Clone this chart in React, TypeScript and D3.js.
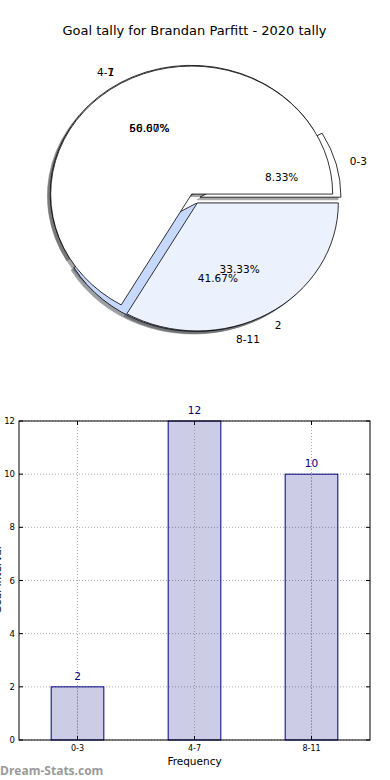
import React from 'react';
import * as d3 from 'd3';

// outer pie (drawn first) and inner pie (drawn on top), same centre
const pieALabels = ['0-3', '4-7', '8-11'];
const pieAValues = [2, 12, 10];
const pieAColors = ['#ffffff', '#ffffff', '#c6d9fd'];

const pieBLabels = ['1', '2'];
const pieBValues = [2, 1];
const pieBColors = ['#ffffff', '#ebf1fd'];

const barCategories = ['0-3', '4-7', '8-11'];
const barValues = [2, 12, 10];
const yTicks = [0, 2, 4, 6, 8, 10, 12];

const FONT = 'DejaVu Sans, sans-serif';

const shade = (c: string) => {
  const k = d3.rgb(c);
  return d3.rgb(k.r * 0.3, k.g * 0.3, k.b * 0.3).toString();
};

const App = () => {
  const width = 390;
  const height = 780;

  // pie geometry (matplotlib pie on a non-square axes -> ellipse)
  const cx = 194.5;
  const cy = 198.5;
  const rx = 141;
  const ry = 128;
  const explode = 0.04;

  const pie = d3.pie<number>()
    .value(d => d)
    .sort(null)
    .startAngle(Math.PI / 2)
    .endAngle(Math.PI / 2 - 2 * Math.PI);

  const arc = d3.arc<any>().innerRadius(0).outerRadius(1);

  const build = (values: number[], labels: string[], colors: string[]) => {
    const total = d3.sum(values);
    return pie(values).map((d, i) => {
      const mid = (d.startAngle + d.endAngle) / 2;
      const ux = Math.sin(mid);
      const uy = -Math.cos(mid);
      return {
        d: arc({ startAngle: Math.min(d.startAngle, d.endAngle), endAngle: Math.max(d.startAngle, d.endAngle) }),
        ox: cx + rx * explode * ux,
        oy: cy + ry * explode * uy,
        ux,
        uy,
        color: colors[i],
        label: labels[i],
        pct: d3.format('.2f')((values[i] / total) * 100) + '%',
      };
    });
  };

  const wedgesA = build(pieAValues, pieALabels, pieAColors);
  const wedgesB = build(pieBValues, pieBLabels, pieBColors);
  const all = [...wedgesA, ...wedgesB];

  // bar chart
  const margin = { top: 421, right: 20, bottom: 40, left: 19 };
  const innerW = width - margin.left - margin.right;
  const innerH = 740 - margin.top;
  const x = d3.scalePoint<string>().domain(barCategories).range([0, innerW]).padding(0.5);
  const step = x.step();
  const barW = step * 0.45;
  const y = d3.scaleLinear().domain([0, 12]).range([innerH, 0]);

  return (
    <svg width={width} height={height} viewBox={`0 0 ${width} ${height}`}
      style={{ position: 'absolute', left: 0, top: 0, background: '#fff' }} fontFamily={FONT}>
      <text x={194.5} y={30} textAnchor="middle" dominantBaseline="central" fontSize={13} fill="#000">
        Goal tally for Brandan Parfitt - 2020 tally
      </text>

      {/* shadows */}
      {all.map((w, i) => (
        <path key={`s-${i}`} d={w.d || ''}
          transform={`translate(${w.ox - 0.02 * rx}, ${w.oy + 0.02 * ry}) scale(${rx}, ${ry})`}
          fill={shade(w.color)} stroke={shade(w.color)} strokeWidth={0.8}
          vectorEffect="non-scaling-stroke" opacity={0.5} />
      ))}
      {/* wedges */}
      {all.map((w, i) => (
        <path key={`w-${i}`} d={w.d || ''}
          transform={`translate(${w.ox}, ${w.oy}) scale(${rx}, ${ry})`}
          fill={w.color} stroke="#000" strokeWidth={0.8} strokeLinejoin="round"
          vectorEffect="non-scaling-stroke" />
      ))}
      {/* labels */}
      {all.map((w, i) => (
        <g key={`t-${i}`} fontSize={10.5} fill="#000">
          <text x={w.ox + rx * 1.1 * w.ux} y={w.oy + ry * 1.1 * w.uy}
            textAnchor={w.ux > 0 ? 'start' : 'end'} dominantBaseline="central">{w.label}</text>
          <text x={w.ox + rx * 0.6 * w.ux} y={w.oy + ry * 0.6 * w.uy}
            textAnchor="middle" dominantBaseline="central">{w.pct}</text>
        </g>
      ))}

      <g transform={`translate(${margin.left}, ${margin.top})`}>
        {/* grid */}
        {yTicks.map(t => (
          <line key={`gy-${t}`} x1={0} x2={innerW} y1={y(t)} y2={y(t)}
            stroke="#aaa" strokeWidth={1} strokeDasharray="1,2" />
        ))}
        {barCategories.map(c => (
          <line key={`gx-${c}`} x1={x(c)} x2={x(c)} y1={0} y2={innerH}
            stroke="#aaa" strokeWidth={1} strokeDasharray="1,2" />
        ))}
        {/* bars */}
        {barCategories.map((c, i) => (
          <g key={`b-${c}`}>
            <rect x={(x(c) as number) - barW / 2} y={y(barValues[i])} width={barW}
              height={innerH - y(barValues[i])} fill="#000080" fillOpacity={0.2}
              stroke="#000080" strokeWidth={1} />
            <line x1={x(c)} x2={x(c)} y1={y(barValues[i])} y2={innerH}
              stroke="#999" strokeWidth={1} strokeDasharray="1,2" />
            <text x={x(c)} y={y(barValues[i]) - 7} textAnchor="middle" fontSize={10.5} fill="#000080">
              {barValues[i]}
            </text>
          </g>
        ))}
        <rect x={0} y={0} width={innerW} height={innerH} fill="none" stroke="#000" strokeWidth={1} />
        {/* y ticks */}
        {yTicks.map(t => (
          <g key={`yt-${t}`}>
            <line x1={0} x2={4} y1={y(t)} y2={y(t)} stroke="#000" />
            <line x1={innerW - 4} x2={innerW} y1={y(t)} y2={y(t)} stroke="#000" />
            <text x={-4} y={y(t)} textAnchor="end" dominantBaseline="central" fontSize={8.5} fill="#000">{t}</text>
          </g>
        ))}
        {/* x ticks */}
        {barCategories.map(c => (
          <g key={`xt-${c}`}>
            <line x1={x(c)} x2={x(c)} y1={innerH} y2={innerH - 4} stroke="#000" />
            <line x1={x(c)} x2={x(c)} y1={0} y2={4} stroke="#000" />
            <text x={x(c)} y={innerH + 8} textAnchor="middle" dominantBaseline="central" fontSize={8} fill="#000">{c}</text>
          </g>
        ))}
        <text x={innerW / 2} y={innerH + 21} textAnchor="middle" dominantBaseline="central" fontSize={10.5} fill="#000">
          Frequency
        </text>
      </g>
      <text transform={`translate(1, 580) rotate(-90)`} textAnchor="middle" fontSize={10.5} fill="#000">
        Goal Interval
      </text>
      <text x={0} y={775} fontSize={12} fontWeight="bold" fill="#9a9a9a" fontFamily="Open Sans, sans-serif">
        Dream-Stats.com
      </text>
    </svg>
  );
};

export default App;
